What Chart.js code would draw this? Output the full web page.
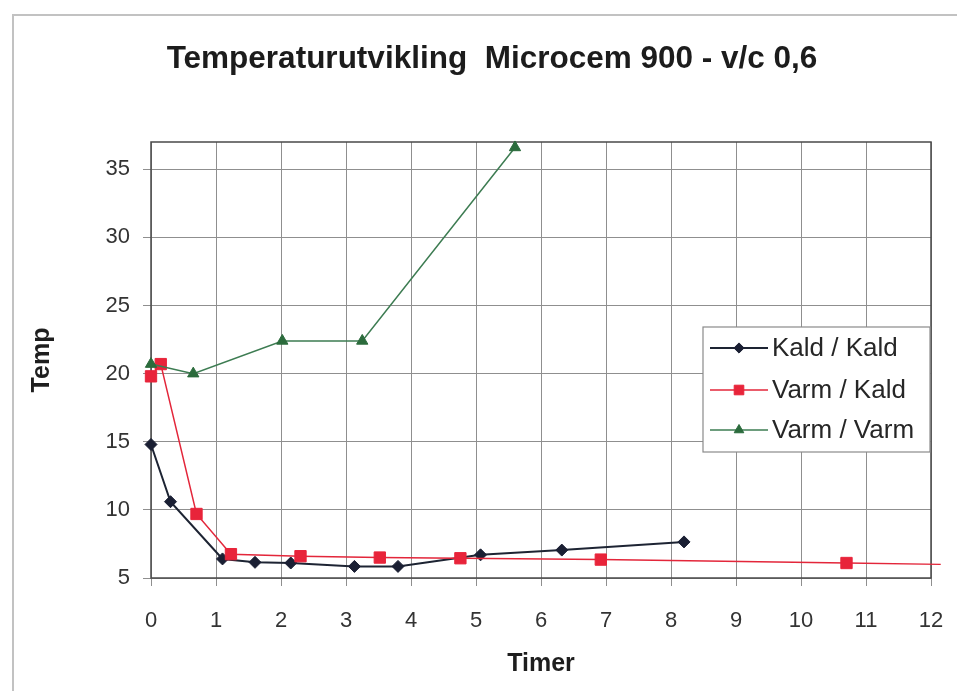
<!DOCTYPE html>
<html><head><meta charset="utf-8">
<script src="https://cdn.jsdelivr.net/npm/chart.js@4.4.0/dist/chart.umd.min.js"></script>
<style>html,body{margin:0;padding:0;background:#fff;overflow:hidden;}</style>
</head><body>
<canvas id="c" width="957" height="691"></canvas>
<script>
// ---- data ----
const chartTitle = 'Temperaturutvikling  Microcem 900 - v/c 0,6';
const xTitle = 'Timer';
const yTitle = 'Temp';
const seriesNames = ['Kald / Kald', 'Varm / Kald', 'Varm / Varm'];
const kaldKaldX = [0, 0.3, 1.1, 1.6, 2.15, 3.13, 3.8, 5.07, 6.32, 8.2];
const kaldKaldY = [14.8, 10.6, 6.4, 6.15, 6.1, 5.85, 5.85, 6.7, 7.05, 7.65];
const varmKaldX = [0, 0.15, 0.7, 1.23, 2.3, 3.52, 4.76, 6.92, 10.7, 12.15];
const varmKaldY = [19.8, 20.7, 9.7, 6.75, 6.6, 6.5, 6.45, 6.35, 6.1, 6.0];
const varmVarmX = [0, 0.65, 2.02, 3.25, 5.6];
const varmVarmY = [20.7, 20.0, 22.4, 22.4, 36.6];
const xTickValues = [0,1,2,3,4,5,6,7,8,9,10,11,12];
const yTickValues = [5,10,15,20,25,30,35];
const xMin = 0, xMax = 12, yMin = 5, yMax = 37;

const FONT = '"Liberation Sans", Arial, Helvetica, sans-serif';
const pts = (xs, ys) => xs.map((x, i) => ({x, y: ys[i]}));

const styles = [
  {line:'#1d2433', fill:'#1a1f33', style:'rectRot', r:6, bw:2},
  {line:'#e3263a', fill:'#e8243a', style:'rect', r:8, bw:1.5},
  {line:'#3d7c52', fill:'#2b6b3c', style:'triangle', r:6.5, bw:1.5}
];
const dataSets = [pts(kaldKaldX, kaldKaldY), pts(varmKaldX, varmKaldY), pts(varmVarmX, varmVarmY)];

const datasets = dataSets.map((d, i) => ({
  label: seriesNames[i],
  data: d,
  showLine: true,
  borderColor: styles[i].line,
  borderWidth: styles[i].bw,
  backgroundColor: styles[i].fill,
  pointBackgroundColor: styles[i].fill,
  pointBorderColor: styles[i].fill,
  pointBorderWidth: 1,
  pointStyle: styles[i].style,
  pointRadius: d.map((p, k) => (i === 1 && k === d.length - 1) ? 0 : styles[i].r),
  tension: 0,
  clip: false,
  order: 3 - i
}));

const framePlugin = {
  id: 'frame',
  beforeDraw(chart) {
    const ctx = chart.ctx;
    ctx.save();
    ctx.fillStyle = '#fff';
    ctx.fillRect(0, 0, chart.width, chart.height);
    ctx.strokeStyle = '#c2c2c2';
    ctx.lineWidth = 2;
    ctx.beginPath();
    ctx.moveTo(13, chart.height); ctx.lineTo(13, 15); ctx.lineTo(chart.width, 15);
    ctx.stroke();
    // title
    ctx.fillStyle = '#1c1c1c';
    ctx.font = 'bold 31.5px ' + FONT;
    ctx.textAlign = 'center';
    ctx.textBaseline = 'alphabetic';
    ctx.fillText(chartTitle, 492, 68);
    ctx.restore();
  },
  beforeDatasetsDraw(chart) {
    const {ctx, chartArea: a} = chart;
    ctx.save();
    ctx.strokeStyle = '#4a4a4a';
    ctx.lineWidth = 1.5;
    ctx.strokeRect(a.left, a.top, a.right - a.left, a.bottom - a.top);
    ctx.restore();
  },
  afterDraw(chart) {
    const ctx = chart.ctx;
    const bx = 703, by = 327, bw = 227, bh = 125;
    const rows = [348, 390, 430];
    ctx.save();
    ctx.fillStyle = '#fff';
    ctx.fillRect(bx, by, bw, bh);
    ctx.strokeStyle = '#8a8a8a';
    ctx.lineWidth = 1.2;
    ctx.strokeRect(bx, by, bw, bh);
    chart.data.datasets.forEach((ds, i) => {
      const y = rows[i];
      ctx.strokeStyle = ds.borderColor;
      ctx.lineWidth = ds.borderWidth;
      ctx.beginPath(); ctx.moveTo(710, y); ctx.lineTo(768, y); ctx.stroke();
      ctx.fillStyle = ds.pointBackgroundColor;
      ctx.strokeStyle = ds.pointBorderColor;
      ctx.lineWidth = 1;
      Chart.helpers.drawPoint(ctx, {pointStyle: ds.pointStyle, radius: styles[i].r * 0.85, rotation: 0, borderWidth: 1}, 739, y);
      ctx.fillStyle = '#262626';
      ctx.font = '26px ' + FONT;
      ctx.textAlign = 'left';
      ctx.textBaseline = 'middle';
      ctx.fillText(ds.label, 772, y + 1);
    });
    ctx.restore();
  }
};

new Chart(document.getElementById('c'), {
  type: 'scatter',
  data: {datasets},
  options: {
    responsive: false,
    animation: false,
    devicePixelRatio: 1,
    layout: {padding: {top: 142, right: 26, left: 0, bottom: 0}},
    plugins: {legend: {display: false}, title: {display: false}, tooltip: {enabled: false}},
    scales: {
      x: {
        type: 'linear', min: xMin, max: xMax,
        afterBuildTicks: s => { s.ticks = xTickValues.map(v => ({value: v})); },
        afterFit: s => { s.height = 113; s.paddingLeft = 0; s.paddingRight = 0; },
        ticks: {font: {family: FONT, size: 22}, color: '#333', padding: 22, maxRotation: 0},
        grid: {color: '#8f8f8f', lineWidth: 1, tickLength: 8, drawTicks: true},
        border: {display: false},
        title: {display: true, text: xTitle, font: {family: FONT, size: 25, weight: 'bold'}, color: '#1e1e1e', padding: {top: 0, bottom: 12}}
      },
      y: {
        type: 'linear', min: yMin, max: yMax,
        afterBuildTicks: s => { s.ticks = yTickValues.map(v => ({value: v})); },
        afterFit: s => { s.width = 151; },
        ticks: {font: {family: FONT, size: 22}, color: '#333', padding: 13},
        grid: {color: '#8f8f8f', lineWidth: 1, tickLength: 8, drawTicks: true},
        border: {display: false},
        title: {display: true, text: yTitle, font: {family: FONT, size: 25, weight: 'bold'}, color: '#1e1e1e', padding: {top: 27, bottom: 0}}
      }
    }
  },
  plugins: [framePlugin]
});
</script>
</body></html>
